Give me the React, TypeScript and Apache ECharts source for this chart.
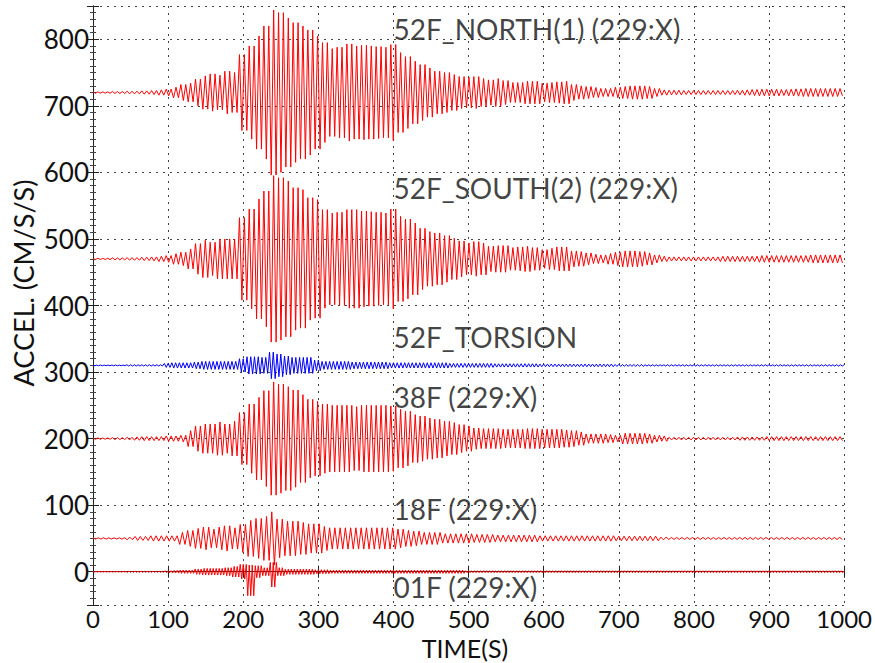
import React, { useEffect, useRef } from "react";
import * as echarts from "echarts";

// Envelope (peak amplitude, CM/S/S) of each record, one value per 10 s (t = 0..1000 s)
const NORTH_AMP = [
  1, 1, 1, 1.5, 1.5, 2, 2, 2.5, 3, 4,
  5, 8, 12, 14, 20, 25, 28, 26, 32, 30,
  57, 70, 85, 100, 124, 120, 112, 105, 100, 94,
  85, 75, 66, 68, 73, 70, 71, 70, 69, 68,
  72, 60, 54, 47, 42, 37, 32, 30, 27, 24,
  23, 24, 21, 19, 21, 18, 15, 15, 17, 17,
  14, 15, 16, 17, 12, 10, 9, 7.5, 6, 6,
  8, 9, 10, 10, 9, 6, 4, 3.5, 3.5, 3,
  3, 3, 3, 3, 3, 3, 3.5, 4, 4.5, 5,
  5, 5, 4.5, 5, 5.5, 6, 6, 6, 6, 6,
  5,
];
const SOUTH_AMP = [
  1, 1, 1, 1.5, 1.5, 2, 2, 2.5, 3, 4,
  5, 8, 10, 15, 23, 28, 25, 30, 30, 30,
  62, 75, 90, 102, 125, 122, 117, 107, 104, 92,
  89, 74, 69, 70, 74, 74, 72, 71, 70, 69,
  75, 64, 60, 54, 46, 41, 39, 35, 31, 27,
  24, 26, 24, 19, 20, 20, 17, 18, 19, 17,
  14, 16, 18, 18, 12, 11, 9, 7, 6, 8,
  10, 12, 12, 11, 9, 6, 4, 3, 3, 3,
  3, 3, 3, 3, 4, 4, 4, 4, 4, 5,
  5, 5, 5, 5, 5, 5, 6, 6, 6, 6,
  6,
];
const TORSION_AMP = [
  0.5, 0.5, 0.5, 0.5, 0.5, 1, 1, 1, 1, 1,
  3, 4, 4, 4, 5, 6, 6, 6, 6, 6,
  10, 13, 13, 12, 20, 17, 14, 12, 12, 12,
  8, 6, 6, 6, 6, 5, 5, 5, 5, 5,
  4, 4, 4, 4, 4, 4, 4, 4, 3, 3,
  3, 3, 3, 3, 2.5, 2.5, 2.5, 2.5, 2.5, 2.5,
  2, 2, 2, 2, 2, 2, 2, 2, 2, 2,
  1.5, 1.5, 1.5, 1.5, 1, 1, 1, 1, 1, 1,
  1, 1, 1, 1, 1, 1, 1, 1, 1, 1,
  1, 1, 1, 1, 1, 1, 1, 1, 1, 1,
  1,
];
const F38_AMP = [
  1, 1, 1, 1.5, 1.5, 2, 2.5, 3, 3, 3,
  4, 4, 5, 12, 19, 22, 22, 25, 22, 26,
  39, 52, 62, 72, 85, 82, 78, 73, 66, 59,
  56, 52, 50, 50, 50, 48, 50, 50, 50, 50,
  49, 44, 41, 36, 34, 31, 29, 26, 24, 21,
  19, 16, 15, 15, 15, 14, 14, 14, 15, 15,
  14, 14, 14, 13, 12, 10, 7, 7, 7, 6,
  5, 8, 8, 8, 7, 5, 4, 2, 2, 2,
  2, 2, 2, 2, 2, 2, 2.5, 2.5, 2.5, 2.5,
  3, 3, 3, 3, 3, 3, 3, 3, 3, 3,
  3,
];
const F18_AMP = [
  1, 1, 1, 1, 1, 2, 3, 3, 4, 4,
  4, 4, 9, 12, 15, 17, 14, 17, 19, 16,
  21, 27, 30, 33, 40, 29, 26, 26, 24, 22,
  22, 18, 16, 16, 16, 16, 16, 16, 16, 16,
  16, 14, 12, 11, 9, 9, 9, 7, 7, 7,
  7, 6, 6, 6, 5, 5, 5, 5, 5, 5,
  4, 4, 4, 4, 4, 4, 4, 4, 4, 4,
  3.5, 3.5, 3.5, 3.5, 3.5, 3.5, 2, 1.5, 1.5, 1.5,
  1.5, 1.5, 1.5, 1.5, 1.5, 1.5, 1.5, 1.5, 1.5, 1.5,
  1.5, 1.5, 1.5, 1.5, 1.5, 1.5, 1.5, 1.5, 1.5, 1.5,
  1.5,
];
const F01_UP = [
  0.5, 0.5, 0.5, 0.5, 0.5, 1, 1, 1, 1, 1,
  1.5, 2, 2.5, 2.5, 4, 5, 5, 5, 6, 8,
  11, 10, 9, 6, 14, 6, 4, 4, 4, 4,
  3, 3, 2.5, 2.5, 2.5, 2.5, 2.5, 2.5, 2.5, 2.5,
  2.5, 2.5, 2.5, 2.5, 2.5, 2.5, 2.5, 2.5, 2.5, 2.5,
  1.5, 1.5, 1.5, 1.5, 1.5, 1.5, 1.5, 1.5, 1.5, 1.5,
  1.5, 1.5, 1.5, 1.5, 1.5, 1.5, 1.5, 1.5, 1.5, 1.5,
  1.5, 1.5, 1.5, 1.5, 1.5, 1.5, 1.5, 1.5, 1.5, 1.5,
  1.5, 1.5, 1.5, 1.5, 1.5, 1.5, 1.5, 1.5, 1.5, 1.5,
  1.5, 1.5, 1.5, 1.5, 1.5, 1.5, 1.5, 1.5, 1.5, 1.5,
  1.5,
];
const F01_DOWN = [
  0.5, 0.5, 0.5, 0.5, 0.5, 1, 1, 1, 1, 1,
  1.5, 2, 2.5, 2.5, 4, 5, 5, 5, 6, 8,
  11, 36, 9, 6, 23, 6, 4, 4, 4, 4,
  3, 3, 2.5, 2.5, 2.5, 2.5, 2.5, 2.5, 2.5, 2.5,
  2.5, 2.5, 2.5, 2.5, 2.5, 2.5, 2.5, 2.5, 2.5, 2.5,
  1.5, 1.5, 1.5, 1.5, 1.5, 1.5, 1.5, 1.5, 1.5, 1.5,
  1.5, 1.5, 1.5, 1.5, 1.5, 1.5, 1.5, 1.5, 1.5, 1.5,
  1.5, 1.5, 1.5, 1.5, 1.5, 1.5, 1.5, 1.5, 1.5, 1.5,
  1.5, 1.5, 1.5, 1.5, 1.5, 1.5, 1.5, 1.5, 1.5, 1.5,
  1.5, 1.5, 1.5, 1.5, 1.5, 1.5, 1.5, 1.5, 1.5, 1.5,
  1.5,
];

// Trace offsets (CM/S/S) and the half period (s) of each record's oscillation
const RECORD_NAMES = ["52F_NORTH", "52F_SOUTH", "52F_TORSION", "38F", "18F", "01F"];
const RECORD_BASES = [720, 470, 310, 200, 50, 0];
const RECORD_HALF_PERIODS = [3.25, 3.25, 2.5, 3.25, 3.5, 2];
const RECORD_UP = [NORTH_AMP, SOUTH_AMP, TORSION_AMP, F38_AMP, F18_AMP, F01_UP];
const RECORD_DOWN = [NORTH_AMP, SOUTH_AMP, TORSION_AMP, F38_AMP, F18_AMP, F01_DOWN];
const RECORD_COLORS = ["#ff0000", "#ff0000", "#0000ff", "#ff0000", "#ff0000", "#ff0000"];

const LABEL_TEXTS = [
  "52F_NORTH(1) (229:X)",
  "52F_SOUTH(2) (229:X)",
  "52F_TORSION",
  "38F (229:X)",
  "18F (229:X)",
  "01F (229:X)",
];
const LABEL_TIMES = [400, 400, 400, 400, 400, 400];
const LABEL_VALUES = [815, 576, 352, 263, 94, -23];

const X_MIN = 0;
const X_MAX = 1000;
const X_INTERVAL = 100;
const Y_MIN = -50;
const Y_MAX = 850;
const BIN = 10;

// Draw each envelope as the alternating peaks of the trace
function trace(base: number, up: number[], down: number[], half: number) {
  const pts: number[][] = [];
  for (let k = 0; k * half <= X_MAX + 1e-9; k++) {
    const t = k * half;
    const i = Math.min(up.length - 1, Math.round(t / BIN));
    pts.push([t, k % 2 === 0 ? base + up[i] : base - down[i]]);
  }
  return pts;
}

const FONT = "Lato, 'Open Sans', sans-serif";

export default function App() {
  const ref = useRef<HTMLDivElement>(null);
  useEffect(() => {
    if (!ref.current) return;
    const chart = echarts.init(ref.current, undefined, { renderer: "svg" });
    const axisLine = { show: true, lineStyle: { color: "#222", width: 1 } };
    const grid = { show: true, lineStyle: { color: "#444", width: 1, type: [2, 5] as any } };
    const series: any[] = RECORD_NAMES.map((name, r) => ({
      name,
      type: "line",
      xAxisIndex: 0,
      yAxisIndex: 0,
      showSymbol: false,
      symbol: "none",
      silent: true,
      lineStyle: { color: RECORD_COLORS[r], width: 1 },
      data: trace(RECORD_BASES[r], RECORD_UP[r], RECORD_DOWN[r], RECORD_HALF_PERIODS[r]),
      z: 3,
    }));
    series.push({
      name: "labels",
      type: "scatter",
      symbolSize: 0,
      silent: true,
      data: LABEL_TEXTS.map((txt, i) => ({ value: [LABEL_TIMES[i], LABEL_VALUES[i]], name: txt })),
      label: {
        show: true,
        position: "right",
        distance: 0,
        formatter: (p: any) => p.name,
        fontSize: 28,
        lineHeight: 26,
        fontFamily: FONT,
        color: "#111",
      },
      z: 5,
    });
    chart.setOption({
      animation: false,
      backgroundColor: "#fff",
      grid: { left: 93, right: 22, top: 6, bottom: 58, containLabel: false },
      xAxis: [
        {
          type: "value",
          min: X_MIN,
          max: X_MAX,
          interval: X_INTERVAL,
          position: "bottom",
          axisLine,
          axisTick: { show: true, inside: true, length: 6, lineStyle: { color: "#222" } },
          axisLabel: {
            show: true,
            fontSize: 24,
            lineHeight: 24,
            fontFamily: FONT,
            color: "#111",
            margin: 1,
            formatter: (v: number) => String(v),
          },
          splitLine: grid,
        },
        {
          type: "value",
          min: X_MIN,
          max: X_MAX,
          interval: X_INTERVAL,
          position: "top",
          axisLine,
          axisTick: { show: true, inside: true, length: 6, lineStyle: { color: "#222" } },
          axisLabel: { show: false },
          splitLine: { show: false },
        },
      ],
      yAxis: [
        {
          type: "value",
          min: Y_MIN,
          max: Y_MAX,
          splitNumber: 9,
          position: "left",
          axisLine,
          axisTick: { show: true, inside: true, length: 6, lineStyle: { color: "#222" } },
          minorTick: { show: true, splitNumber: 10, length: 3, lineStyle: { color: "#444" } },
          axisLabel: {
            show: true,
            fontSize: 26,
            fontFamily: FONT,
            color: "#111",
            margin: 4,
            formatter: (v: number) => (v % 100 === 0 ? String(v) : ""),
          },
          splitLine: grid,
        },
        {
          type: "value",
          min: Y_MIN,
          max: Y_MAX,
          splitNumber: 9,
          position: "right",
          axisLine,
          axisTick: { show: true, inside: true, length: 6, lineStyle: { color: "#222" } },
          minorTick: { show: true, splitNumber: 10, length: 3, lineStyle: { color: "#444" } },
          axisLabel: { show: false },
          splitLine: { show: false },
        },
      ],
      graphic: [
        {
          type: "text",
          x: 23,
          y: 283,
          rotation: Math.PI / 2,
          style: {
            text: "ACCEL. (CM/S/S)",
            fontSize: 27,
            lineHeight: 27,
            fontFamily: FONT,
            fill: "#111",
            textAlign: "center",
            textVerticalAlign: "middle",
          },
        },
        {
          type: "text",
          x: 465,
          y: 648,
          style: {
            text: "TIME(S)",
            fontSize: 25,
            lineHeight: 24,
            fontFamily: FONT,
            fill: "#111",
            textAlign: "center",
            textVerticalAlign: "middle",
          },
        },
      ],
      series,
    });
    return () => chart.dispose();
  }, []);
  return (
    <div
      ref={ref}
      style={{ position: "absolute", left: 0, top: 0, width: 875, height: 663, background: "#fff" }}
    />
  );
}
